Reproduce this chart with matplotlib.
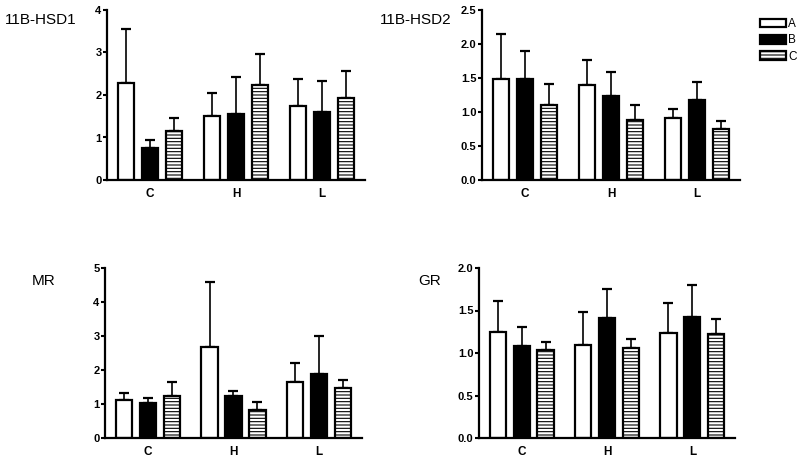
import numpy as np
import matplotlib
matplotlib.use('Agg')
import matplotlib.pyplot as plt
from matplotlib.patches import Patch

plt.rcParams['font.family'] = ['Liberation Sans', 'DejaVu Sans']
plt.rcParams['hatch.linewidth'] = 0.8

groups = ['C', 'H', 'L']
series = ['A', 'B', 'C']

# means per series (A, B, C) for groups C, H, L and the top of each error bar
hsd1_mean = [[2.29, 1.50, 1.75], [0.76, 1.56, 1.59], [1.15, 2.23, 1.93]]
hsd1_top = [[3.55, 2.05, 2.38], [0.93, 2.43, 2.32], [1.45, 2.96, 2.56]]

hsd2_mean = [[1.49, 1.39, 0.91], [1.49, 1.24, 1.17], [1.11, 0.88, 0.75]]
hsd2_top = [[2.14, 1.77, 1.05], [1.90, 1.59, 1.44], [1.41, 1.10, 0.87]]

mr_mean = [[1.12, 2.68, 1.64], [1.04, 1.23, 1.88], [1.23, 0.83, 1.46]]
mr_top = [[1.32, 4.59, 2.21], [1.18, 1.37, 3.01], [1.66, 1.05, 1.72]]

gr_mean = [[1.25, 1.10, 1.24], [1.08, 1.41, 1.42], [1.03, 1.06, 1.22]]
gr_top = [[1.61, 1.48, 1.59], [1.31, 1.75, 1.80], [1.13, 1.16, 1.40]]

styles = [dict(facecolor='white', hatch=None),
          dict(facecolor='black', hatch=None),
          dict(facecolor='white', hatch='-----')]

fig = plt.figure(figsize=(8, 4.61), dpi=100)


def panel(rect, means, tops, ymax, yticks, yfmt, title, title_xy):
    ax = fig.add_axes(rect)
    x = np.arange(len(groups))
    width = 0.19
    step = 0.28
    for i, (m, t) in enumerate(zip(means, tops)):
        m = np.array(m)
        up = np.array(t) - m
        pos = x + (i - 1) * step
        ax.bar(pos, m, width, edgecolor='black', linewidth=1.6, zorder=2, **styles[i])
        ax.errorbar(pos, m, yerr=[np.zeros_like(m), up], fmt='none', ecolor='black',
                    elinewidth=1.2, capsize=3.8, capthick=1.6, zorder=1)
    ax.set_xlim(-0.5, 2.5)
    ax.set_ylim(0, ymax)
    ax.set_yticks(yticks)
    ax.set_yticklabels([yfmt.format(v) for v in yticks], fontweight='bold', fontsize=8)
    ax.set_xticks(x)
    ax.set_xticklabels(groups, fontweight='bold', fontsize=8.5)
    ax.tick_params(axis='x', length=0, pad=6)
    ax.tick_params(axis='y', length=3, width=1.5, pad=1)
    for s in ['top', 'right']:
        ax.spines[s].set_visible(False)
    for s in ['left', 'bottom']:
        ax.spines[s].set_linewidth(1.6)
    fig.text(title_xy[0] / 800, 1 - title_xy[1] / 461, title, fontsize=11,
             ha='left', va='center')
    return ax


H = 170 / 461
panel([107 / 800, 1 - 180 / 461, 258 / 800, H], hsd1_mean, hsd1_top, 4,
      [0, 1, 2, 3, 4], '{:.0f}', '11B-HSD1', (5, 20))
panel([482 / 800, 1 - 180 / 461, 258 / 800, H], hsd2_mean, hsd2_top, 2.5,
      [0, 0.5, 1.0, 1.5, 2.0, 2.5], '{:.1f}', '11B-HSD2', (380, 20))
panel([105 / 800, 1 - 438 / 461, 257 / 800, H], mr_mean, mr_top, 5,
      [0, 1, 2, 3, 4, 5], '{:.0f}', 'MR', (32, 281))
panel([479 / 800, 1 - 438 / 461, 256 / 800, H], gr_mean, gr_top, 2.0,
      [0, 0.5, 1.0, 1.5, 2.0], '{:.1f}', 'GR', (418, 281))

handles = [Patch(edgecolor='black', linewidth=1.6, **styles[i]) for i in range(3)]
fig.legend(handles, series, loc='upper left', bbox_to_anchor=(752 / 800, 1 - 10 / 461),
           frameon=False, fontsize=8.5, handlelength=2.2, handleheight=0.75,
           handletextpad=0.15, labelspacing=0.35, borderpad=0.2)

plt.savefig('out.png', dpi=100)
